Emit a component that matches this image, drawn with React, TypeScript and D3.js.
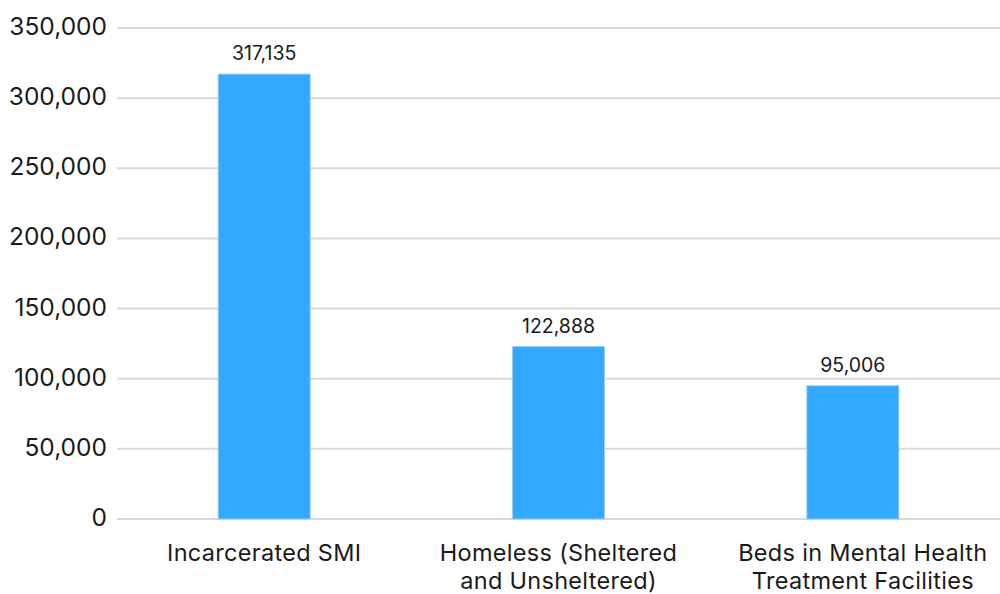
import React from "react";
import * as d3 from "d3";

const categories: string[][] = [
  ["Incarcerated SMI"],
  ["Homeless (Sheltered", "and Unsheltered)"],
  ["Beds in Mental Health", "Treatment Facilities"],
];
const values: number[] = [317135, 122888, 95006];
const yTicks: number[] = [0, 50000, 100000, 150000, 200000, 250000, 300000, 350000];

const W = 1000;
const H = 594;
const FONT = "Inter, 'Liberation Sans', Arial, sans-serif";

export default function App() {
  const left = 117;
  const right = 1000;
  const top = 28;
  const bottom = 519;
  const x = d3
    .scaleBand<number>()
    .domain(values.map((_, i) => i))
    .range([left, right])
    .paddingInner(0.6874)
    .paddingOuter(0.3437);
  const y = d3.scaleLinear().domain([0, 350000]).range([bottom, top]);
  const fmt = d3.format(",");

  return (
    <svg
      width={W}
      height={H}
      style={{ position: "absolute", left: 0, top: 0, display: "block", background: "#fff" }}
      fontFamily={FONT}
    >
      {yTicks.map((t) => (
        <g key={t}>
          <line x1={left} x2={right} y1={y(t)} y2={y(t)} stroke="#d9d9d9" strokeWidth={2} />
          <text
            x={107}
            y={y(t) + 7}
            textAnchor="end"
            fontSize={24.5}
            fill="#1a1a1a"
          >
            {fmt(t)}
          </text>
        </g>
      ))}
      {values.map((v, i) => {
        const bx = x(i)!;
        const bw = x.bandwidth();
        const labelShift = i === values.length - 1 ? 10 : 0;
        return (
          <g key={i}>
            <rect
              x={bx}
              y={y(v)}
              width={bw}
              height={y(0) - y(v)}
              fill="#33a8ff"
              stroke="#9ccbf0"
              strokeWidth={1}
            />
            <text
              x={bx + bw / 2}
              y={y(v) - 14}
              textAnchor="middle"
              fontSize={19.5}
              fill="#1a1a1a"
            >
              {fmt(v)}
            </text>
            {categories[i].map((line, j) => (
              <text
                key={j}
                x={bx + bw / 2 + labelShift}
                y={561 + j * 28}
                textAnchor="middle"
                fontSize={23.5}
                letterSpacing={0.3}
                fill="#1a1a1a"
              >
                {line}
              </text>
            ))}
          </g>
        );
      })}
    </svg>
  );
}
